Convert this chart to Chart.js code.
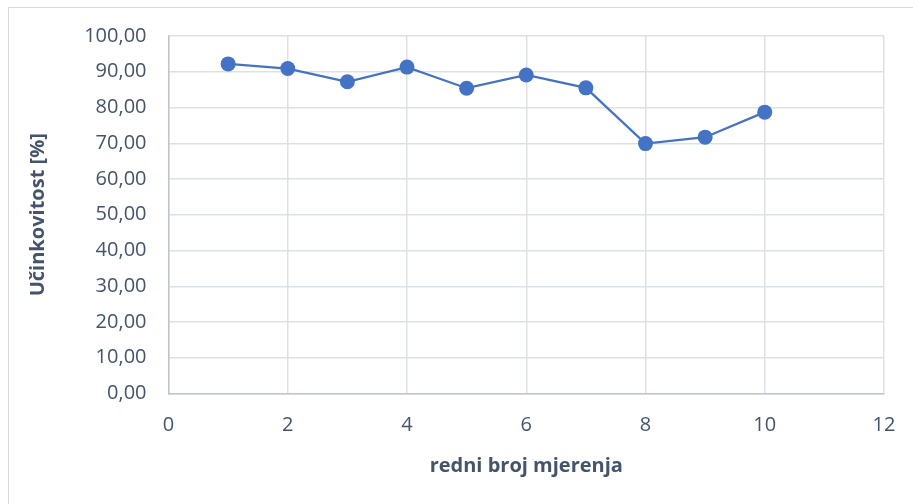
<!DOCTYPE html>
<html>
<head>
<meta charset="utf-8">
<script src="https://cdn.jsdelivr.net/npm/chart.js@4"></script>
<style>
  body { margin: 0; overflow: hidden; background: #fff; }
  #wrap { position: relative; width: 913px; height: 504px; }
  #frame { position: absolute; left: 8px; top: 7px; width: 930px; height: 520px; border: 1.5px solid #D9D9D9; box-sizing: border-box; }
</style>
</head>
<body>
<div id="wrap">
  <div id="frame"></div>
  <canvas id="myChart" width="913" height="504"></canvas>
</div>
<script>
const mjerenja = [1, 2, 3, 4, 5, 6, 7, 8, 9, 10]
const ucinkovitost = [92.2, 90.9, 87.2, 91.3, 85.4, 89.1, 85.5, 69.9, 71.7, 78.7]
const xTicks = [0, 2, 4, 6, 8, 10, 12]
const yTicks = [0, 10, 20, 30, 40, 50, 60, 70, 80, 90, 100]

const textColor = '#44546A'
const gridColor = '#DDE1E6'

const ctx = document.getElementById('myChart');
const myChart = new Chart(ctx, {
    type: 'scatter',
    data: {
        datasets: [
            {
            label: 'Učinkovitost',
            data: mjerenja.map((x, i) => ({x: x, y: ucinkovitost[i]})),
            showLine: true,
            borderColor: '#4472C4',
            backgroundColor: '#4472C4',
            borderWidth: 2.25,
            pointRadius: 7.5,
            pointHoverRadius: 7.5,
            pointBorderWidth: 0,
           }
        ]
    },
    options: {
        responsive: false,
        animation: false,
        layout: {
            padding: {top: 36, right: 29, left: 0, bottom: 0}
        },
        plugins: {
            legend: { display: false },
            tooltip: { enabled: false }
        },
        scales: {
            x: {
                type: 'linear',
                min: xTicks[0],
                max: xTicks[xTicks.length - 1],
                afterFit: function(scale) {
                    scale.height = 110.5
                    scale.paddingLeft = 0
                    scale.paddingRight = 0
                },
                afterBuildTicks: function(scale) { scale.ticks = xTicks.map(v => ({value: v})) },
                grid: { color: gridColor, lineWidth: 1.5, drawTicks: false },
                border: { color: '#BFC6D1', width: 1.5 },
                ticks: {
                    color: textColor,
                    font: { family: 'Open Sans', size: 20 },
                    padding: 20
                },
                title: {
                    display: true,
                    text: 'redni broj mjerenja',
                    color: textColor,
                    font: { family: 'Open Sans', size: 20, weight: 'bold' },
                    padding: { bottom: 26 }
                }
            },
            y: {
                min: yTicks[0],
                max: yTicks[yTicks.length - 1],
                afterFit: function(scale) {
                    scale.width = 168.5
                    scale.paddingTop = 0
                    scale.paddingBottom = 0
                },
                afterBuildTicks: function(scale) { scale.ticks = yTicks.map(v => ({value: v})) },
                grid: { color: gridColor, lineWidth: 1.5, drawTicks: false },
                border: { color: '#BFC6D1', width: 1.5 },
                ticks: {
                    color: textColor,
                    font: { family: 'Open Sans', size: 20 },
                    padding: 22,
                    callback: function(value) {
                        return value.toFixed(2).replace('.', ',')
                    }
                },
                title: {
                    display: true,
                    text: 'Učinkovitost [%]',
                    color: textColor,
                    font: { family: 'Open Sans', size: 20, weight: 'bold' },
                    padding: { top: 26 }
                }
            }
        }
    }
});
</script>
</body>
</html>
